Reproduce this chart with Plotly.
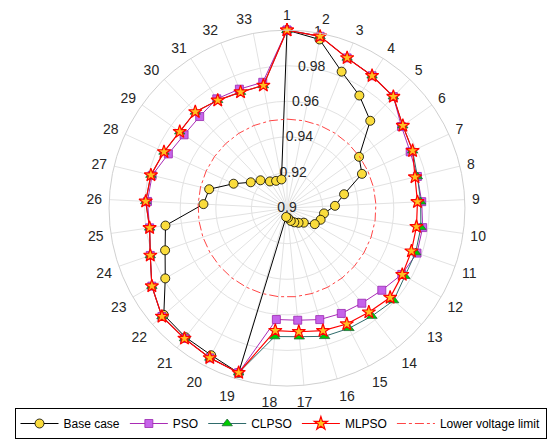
import plotly.graph_objects as go

buses = [str(i) for i in range(1, 34)]

base_case = [1.0, 0.9965, 0.9826, 0.9752, 0.9678, 0.9497, 0.9463, 0.933, 0.927, 0.921,
             0.920, 0.918, 0.9125, 0.9105, 0.909, 0.9075, 0.9055, 0.905,
             0.9965, 0.993, 0.9923, 0.9916, 0.979, 0.9725, 0.969, 0.947, 0.945,
             0.933, 0.925, 0.9216, 0.9178, 0.9165, 0.9164]

pso = [1.0, 0.9983, 0.9909, 0.9884, 0.9866, 0.979, 0.9761, 0.9754, 0.9758, 0.977,
       0.9773, 0.9745, 0.9705, 0.968, 0.9666, 0.9653, 0.9633, 0.9629,
       0.9964, 0.9947, 0.9932, 0.993, 0.9877, 0.9813, 0.978, 0.9785, 0.978,
       0.9733, 0.971, 0.9711, 0.973, 0.972, 0.972]

clpso = [1.0, 0.9983, 0.9909, 0.9884, 0.9866, 0.9799, 0.9776, 0.9754, 0.9752, 0.976,
         0.9765, 0.9765, 0.9793, 0.9772, 0.976, 0.9751, 0.9726, 0.9725,
         0.9964, 0.9947, 0.9932, 0.993, 0.9877, 0.9813, 0.978, 0.9795, 0.9787,
         0.976, 0.974, 0.9747, 0.972, 0.9702, 0.9702]

mlpso = [1.0, 0.9983, 0.9909, 0.9884, 0.9866, 0.9799, 0.9776, 0.974, 0.9734, 0.9735,
         0.974, 0.9748, 0.9767, 0.9744, 0.9733, 0.9718, 0.9698, 0.9692,
         0.9964, 0.9947, 0.9932, 0.993, 0.9877, 0.9813, 0.978, 0.9795, 0.9787,
         0.976, 0.974, 0.9747, 0.972, 0.9702, 0.9702]

lower_limit = 0.95

r_ticks = [0.9, 0.92, 0.94, 0.96, 0.98, 1.0]
r_tick_labels = ["0.9", "0.92", "0.94", "0.96", "0.98", "1"]

n = len(buses)
angles = [i * 360.0 / n for i in range(n)]
closed_angles = angles + [angles[0]]


def closed(vals):
    return list(vals) + [vals[0]]


FONT = "Liberation Sans, Arial, Helvetica, sans-serif"
TXT = "#262626"

fig = go.Figure()

# radial tick labels, centred on the radial axis line (as in MATLAB polaraxes)
fig.add_trace(go.Scatterpolar(
    r=r_ticks, theta=[10] * len(r_ticks), mode="text", text=r_tick_labels,
    textfont=dict(family=FONT, size=14, color=TXT), textposition="middle center",
    showlegend=False, hoverinfo="skip"))

fig.add_trace(go.Scatterpolar(
    r=closed(base_case), theta=closed_angles, mode="lines+markers", name="Base case",
    line=dict(color="black", width=1),
    marker=dict(symbol="circle", size=9, color="#FADC3C", line=dict(color="black", width=0.8))))

fig.add_trace(go.Scatterpolar(
    r=closed(pso), theta=closed_angles, mode="lines+markers", name="PSO",
    line=dict(color="#A92BB5", width=1),
    marker=dict(symbol="square", size=8, color="#C663EA", line=dict(color="#9B27B0", width=0.8))))

fig.add_trace(go.Scatterpolar(
    r=closed(clpso), theta=closed_angles, mode="lines+markers", name="CLPSO",
    line=dict(color="#2F6B6B", width=1),
    marker=dict(symbol="triangle-up", size=9, color="#00CC00", line=dict(color="#1F6B3A", width=0.8))))

fig.add_trace(go.Scatterpolar(
    r=closed(mlpso), theta=closed_angles, mode="lines+markers", name="MLPSO",
    line=dict(color="#FF0000", width=1.2),
    marker=dict(symbol="star", size=10, color="#FFC020", line=dict(color="#FF0000", width=1.2))))

fig.add_trace(go.Scatterpolar(
    r=[lower_limit] * (n + 1), theta=closed_angles, mode="lines", name="Lower voltage limit",
    line=dict(color="#FF3030", width=0.9, dash="dashdot")))

W, H = 554, 439
cx, cy, R = 287, 210.5, 180

fig.update_layout(
    width=W, height=H,
    margin=dict(l=0, r=0, t=0, b=0),
    paper_bgcolor="white",
    font=dict(family=FONT, size=14, color=TXT),
    polar=dict(
        domain=dict(x=[(cx - R) / W, (cx + R) / W], y=[1 - (cy + R) / H, 1 - (cy - R) / H]),
        bgcolor="white",
        angularaxis=dict(
            tickmode="array", tickvals=angles, ticktext=buses,
            rotation=90, direction="clockwise", thetaunit="degrees",
            showline=True, linecolor="#D0D0D0", linewidth=1,
            gridcolor="#E2E2E2", gridwidth=1,
            ticks="outside", ticklen=4, tickcolor="rgba(0,0,0,0)",
            tickfont=dict(family=FONT, size=14, color=TXT)),
        radialaxis=dict(
            range=[0.9, 1.0], tickmode="array", tickvals=r_ticks,
            showticklabels=False, showline=False, ticks="",
            gridcolor="#E2E2E2", gridwidth=1, angle=80),
    ),
    legend=dict(
        orientation="h", x=280.5 / W, xanchor="center", y=1 - 413 / H, yanchor="top",
        bordercolor="black", borderwidth=1, bgcolor="white",
        font=dict(family=FONT, size=12, color="black"),
        itemwidth=38, tracegroupgap=0),
)

fig.write_html("out.html", config={"displayModeBar": False},
               post_script="document.body.style.margin='0';")
